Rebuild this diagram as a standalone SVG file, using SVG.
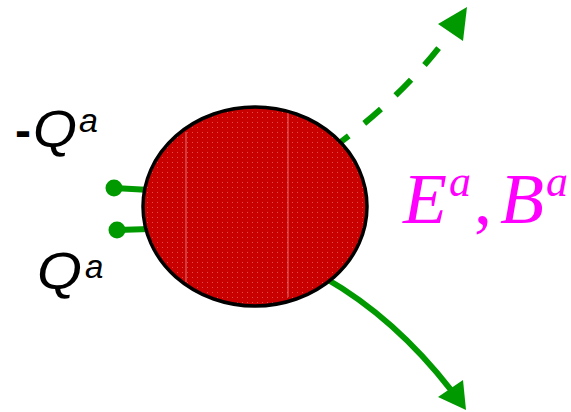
<svg xmlns="http://www.w3.org/2000/svg" width="571" height="412" viewBox="0 0 571 412">
<style>
.conn{fill:none;stroke:#009900;stroke-width:6}
.dash{stroke-dasharray:22 20;stroke-dashoffset:23}
.head{fill:#009900}
.dot{fill:#009900}
.lbl{font-family:"Liberation Sans",Arial,sans-serif;font-style:italic;fill:#000}
.em{font-family:"Liberation Serif","Times New Roman",serif;font-style:italic;fill:#ff00ff}
</style>
<defs>
<pattern id="dots" width="5" height="5" patternUnits="userSpaceOnUse">
<rect x="2" y="2" width="1" height="1" fill="#f08080" opacity="0.6"/>
</pattern>
<clipPath id="ec"><ellipse cx="255" cy="206.5" rx="112" ry="99.5"/></clipPath>
</defs>
<rect width="571" height="412" fill="#fff"/>
<g id="connectors">
<line class="conn" x1="114" y1="188" x2="150" y2="190"/>
<line class="conn" x1="117" y1="230" x2="150" y2="229"/>
<circle class="dot" cx="114" cy="188" r="8.5"/>
<circle class="dot" cx="117" cy="230" r="8.5"/>
<path class="conn dash" d="M450,33 Q405,95 334,147"/>
<polygon class="head" points="467,7 438,24 463,41"/>
<path class="conn" d="M325,278 Q395,318 451,390"/>
<polygon class="head" points="466,410 438,397 463,380"/>
</g>
<g id="particle">
<ellipse cx="255" cy="206.5" rx="112" ry="99.5" fill="#c80000"/>
<g clip-path="url(#ec)">
<rect x="143" y="107" width="224" height="199" fill="url(#dots)"/>
<line x1="186" y1="132" x2="186" y2="282" stroke="#e89090" stroke-width="1" opacity="0.8"/>
<line x1="288" y1="113" x2="288" y2="297" stroke="#e89090" stroke-width="1" opacity="0.8"/>
</g>
<ellipse cx="255" cy="206.5" rx="112" ry="99.5" fill="none" stroke="#000" stroke-width="3.5"/>
</g>
<g id="label-negQ">
<text class="lbl" x="15" y="147" font-size="48" font-weight="bold" style="font-style:normal">-</text>
<text class="lbl" x="33" y="147" font-size="52" textLength="44" lengthAdjust="spacingAndGlyphs">Q</text>
<text class="lbl" x="79" y="132" font-size="34">a</text>
</g>
<g id="label-Q">
<text class="lbl" x="37" y="289" font-size="52" textLength="45" lengthAdjust="spacingAndGlyphs">Q</text>
<text class="lbl" x="85" y="278" font-size="33">a</text>
</g>
<g id="label-EB">
<text class="em" x="403" y="223" font-size="72">E</text>
<text class="em" x="449" y="196" font-size="44">a</text>
<text class="em" x="474" y="223" font-size="72" style="font-style:normal">,</text>
<text class="em" x="500" y="223" font-size="72">B</text>
<text class="em" x="546" y="196" font-size="44">a</text>
</g>
</svg>
